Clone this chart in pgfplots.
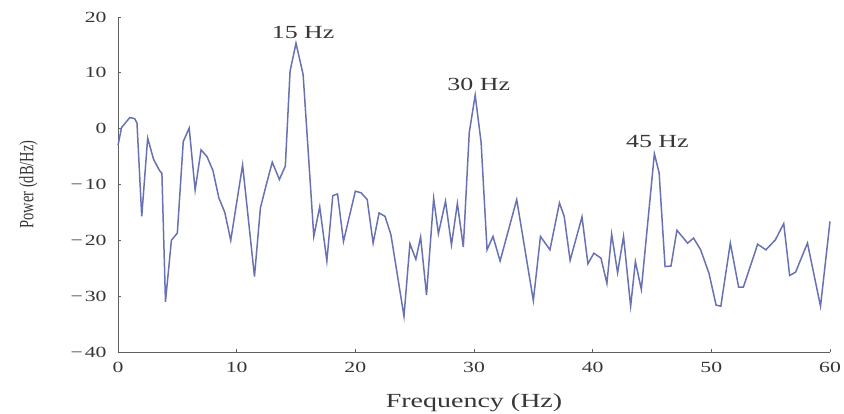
\documentclass[border=0pt]{standalone}
\usepackage{fontspec}
\setmainfont{Liberation Serif}[FakeStretch=1.4]
\newfontfamily\plainserif{Liberation Serif}
\usepackage{graphicx}
\usepackage{pgfplots}
\pgfplotsset{compat=1.18}
\definecolor{psd}{RGB}{104,114,178}
\definecolor{axgray}{RGB}{95,95,95}
\definecolor{txt}{RGB}{55,55,55}
\begin{document}
\begin{tikzpicture}
\begin{axis}[
  name=ax,
  width=712pt, height=335pt, scale only axis,
  xmin=0, xmax=60, ymin=-40, ymax=20,
  axis x line=bottom, axis y line=left,
  axis line style={-, axgray, line width=0.9pt},
  tick align=inside, major tick length=3pt,
  tick style={axgray, line width=0.9pt},
  xtick={0,10,...,60}, ytick={-40,-30,...,20},
  xticklabels={0,10,20,30,40,50,60},
  yticklabels={−\kern2pt 40,−\kern2pt 30,−\kern2pt 20,−\kern2pt 10,0,10,20},
  tick label style={font=\fontsize{15.5}{17}\selectfont, text=txt},
  xticklabel style={yshift=-7pt},
  yticklabel style={xshift=-8pt},
  xlabel={Frequency (Hz)},
  xlabel style={font=\fontsize{20}{22}\selectfont, text=txt, yshift=-14pt},
  ylabel={\scalebox{1}[1.4]{Power (dB/Hz)}},
  ylabel style={font=\plainserif\fontsize{14.5}{16}\selectfont, text=txt, yshift=26pt},
  clip=false,
]
\addplot[psd, line width=1.5pt] coordinates {
(0,-3) (0.3,0.2) (1.0,2.0) (1.4,1.8) (1.6,1.0) (2.0,-15.7) (2.5,-1.7)
(3.0,-5.5) (3.5,-7.5) (3.7,-8) (4.0,-31) (4.5,-20) (5.0,-18.7) (5.5,-2.3)
(6.0,0.1) (6.5,-11) (7.0,-3.8) (7.5,-5) (8.0,-7.5) (8.5,-12.4) (9.0,-15)
(9.5,-20) (10.5,-6.5) (11.5,-26.5) (12.0,-14.2) (12.5,-10) (13.0,-6)
(13.6,-9.1) (14.1,-6.7) (14.5,10.3) (15.0,15.3) (15.6,9.7) (16.5,-19.3)
(17.0,-14) (17.6,-23.7) (18.1,-12) (18.5,-11.7) (19.0,-20.2) (20.0,-11.2)
(20.5,-11.5) (21.0,-12.7) (21.5,-20.5) (22.0,-15.1) (22.5,-15.7) (23.0,-19)
(24.1,-33.6) (24.6,-20.6) (25.1,-23.4) (25.5,-19.4) (26.0,-29.8) (26.6,-12.5)
(27.0,-18.8) (27.6,-13) (28.1,-20.8) (28.6,-13.4) (29.1,-21.2) (29.6,-0.7)
(30.1,6.0) (30.6,-2.5) (31.1,-21.7) (31.6,-19.3) (32.2,-23.7) (33.6,-12.7)
(35.0,-30.8) (35.6,-19.3) (36.4,-21.7) (37.2,-13.3) (37.6,-15.7) (38.1,-23.6)
(39.1,-15.8) (39.6,-24.2) (40.1,-22.3) (40.7,-23.2) (41.2,-27.7) (41.6,-18.9)
(42.1,-25.8) (42.6,-19.3) (43.2,-31.8) (43.6,-23.8) (44.1,-28.8) (45.2,-4.5)
(45.6,-7.9) (46.1,-24.7) (46.6,-24.6) (47.1,-18.2) (48.0,-20.5) (48.5,-19.6)
(49.1,-21.7) (49.8,-25.9) (50.4,-31.6) (50.8,-31.8) (51.6,-20.5) (52.3,-28.4)
(52.7,-28.4) (53.9,-20.7) (54.6,-21.7) (55.4,-19.9) (56.1,-17.0) (56.6,-26.3)
(57.1,-25.7) (58.1,-20.5) (59.2,-31.8) (60,-16.6)
};
\node[font=\fontsize{18.5}{20}\selectfont, text=txt] at (axis cs:15.6,17.2) {15 Hz};
\node[font=\fontsize{18.5}{20}\selectfont, text=txt] at (axis cs:30.4,7.9) {30 Hz};
\node[font=\fontsize{18.5}{20}\selectfont, text=txt] at (axis cs:45.45,-2.3) {45 Hz};
\end{axis}
\pgfresetboundingbox
\path ([xshift=-118pt,yshift=-62pt]ax.south west) rectangle ([xshift=14pt,yshift=17pt]ax.north east);
\end{tikzpicture}
\end{document}
